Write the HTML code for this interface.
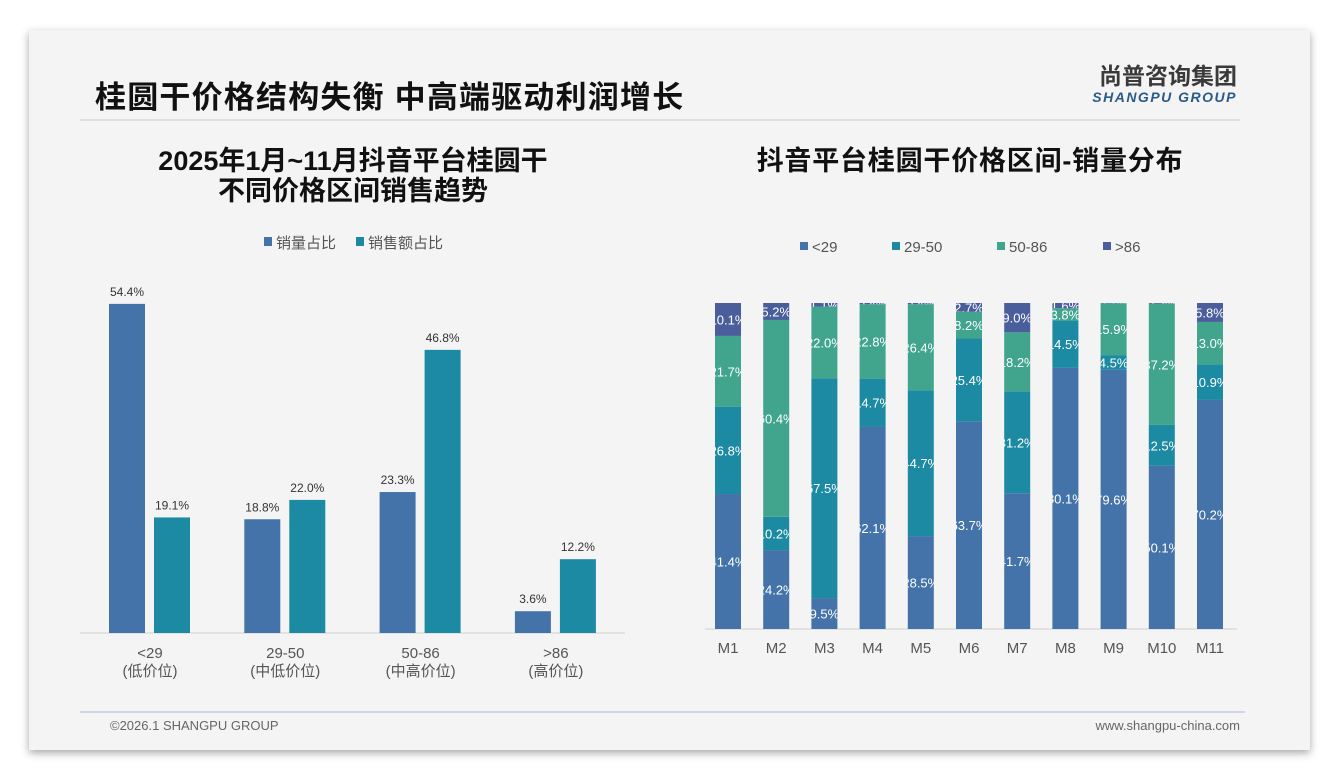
<!DOCTYPE html>
<html><head><meta charset="utf-8">
<style>
body{margin:0;width:1340px;height:780px;background:#fff;font-family:"Liberation Sans","Noto Sans CJK SC",sans-serif;overflow:hidden}
#card{position:absolute;left:29px;top:30px;width:1281px;height:720px;background:#f4f4f4;box-shadow:0 3px 8px rgba(0,0,0,0.35)}
</style></head><body>
<div id="card"></div>
<svg width="1340" height="780" style="position:absolute;left:0;top:0">
<text x="95" y="108" font-size="31" font-weight="bold" fill="#111" letter-spacing="1.2" font-family="Liberation Sans,Noto Sans CJK SC,sans-serif">桂圆干价格结构失衡 中高端驱动利润增长</text>
<line x1="80" y1="120" x2="1240" y2="120" stroke="#d8d8d8" stroke-width="1.5"/>
<text x="1237" y="84" text-anchor="end" font-size="23" font-weight="bold" fill="#3a3a3a" font-family="Noto Sans CJK SC,sans-serif">尚普咨询集团</text>
<text x="1237" y="102" text-anchor="end" font-size="14" font-weight="bold" font-style="italic" fill="#2a5a8a" letter-spacing="1.5">SHANGPU GROUP</text>
<text x="353" y="170" text-anchor="middle" font-size="27" font-weight="bold" fill="#111" font-family="Liberation Sans,Noto Sans CJK SC,sans-serif">2025年1月~11月抖音平台桂圆干</text>
<text x="353" y="200" text-anchor="middle" font-size="27" font-weight="bold" fill="#111" font-family="Liberation Sans,Noto Sans CJK SC,sans-serif">不同价格区间销售趋势</text>
<text x="970" y="170" text-anchor="middle" font-size="27" font-weight="bold" fill="#111" letter-spacing="0.8" font-family="Liberation Sans,Noto Sans CJK SC,sans-serif">抖音平台桂圆干价格区间-销量分布</text>
<g id="left"></g>
<g id="right"></g>
<line x1="80" y1="712" x2="1245" y2="712" stroke="#b9c4d0" stroke-width="1.2"/>
<text x="110" y="730" font-size="13" fill="#666">©2026.1 SHANGPU GROUP</text>
<text x="1240" y="730" text-anchor="end" font-size="13" fill="#666">www.shangpu-china.com</text>
</svg>
<script>
const leftCats=["<29","29-50","50-86",">86"];
const leftSub=["(低价位)","(中低价位)","(中高价位)","(高价位)"];
const volShare=[54.4,18.8,23.3,3.6];
const salesShare=[19.1,22.0,46.8,12.2];
const months=["M1","M2","M3","M4","M5","M6","M7","M8","M9","M10","M11"];
const sLow=[41.4,24.2,9.5,62.1,28.5,63.7,41.7,80.1,79.6,50.1,70.2];
const sMidLow=[26.8,10.2,67.5,14.7,44.7,25.4,31.2,14.5,4.5,12.5,10.9];
const sMidHigh=[21.7,60.4,22.0,22.8,26.4,8.2,18.2,3.8,15.9,37.2,13.0];
const sHigh=[10.1,5.2,1.1,0.4,0.4,2.7,9.0,1.6,0.1,0.2,5.8];
const rightLegend=["<29","29-50","50-86",">86"];
const NS="http://www.w3.org/2000/svg";
function mk(p,t,a){const e=document.createElementNS(NS,t);for(const k in a)e.setAttribute(k,a[k]);p.appendChild(e);return e;}
const C1="#4473a9",C2="#1b8aa2",C3="#41a58e",C4="#4a5e9c";
const L=document.getElementById('left');
const base=633,pxPer=6.05;
const yL=v=>base-v*pxPer;
const xL=i=>150+i*135.3;
mk(L,'line',{x1:80,y1:base,x2:625,y2:base,stroke:'#d0d0d0','stroke-width':1});
let lg=mk(L,'rect',{x:264,y:237,width:8,height:9,fill:C1});

let t=mk(L,'text',{x:276,y:248,'font-size':15,fill:'#555'});t.textContent='销量占比';

lg=mk(L,'rect',{x:356,y:237,width:8,height:9,fill:C2});

t=mk(L,'text',{x:368,y:248,'font-size':15,fill:'#555'});t.textContent='销售额占比';

leftCats.forEach((c,i)=>{
  const cx=xL(i);
  let r=mk(L,'rect',{x:cx-41,y:yL(volShare[i]),width:36,height:volShare[i]*pxPer,fill:C1});
  
  let l=mk(L,'text',{x:cx-23,y:yL(volShare[i])-8,'text-anchor':'middle','font-size':12,fill:'#333'});l.textContent=volShare[i].toFixed(1)+'%';
  
  r=mk(L,'rect',{x:cx+4,y:yL(salesShare[i]),width:36,height:salesShare[i]*pxPer,fill:C2});
  
  l=mk(L,'text',{x:cx+22,y:yL(salesShare[i])-8,'text-anchor':'middle','font-size':12,fill:'#333'});l.textContent=salesShare[i].toFixed(1)+'%';
  
  l=mk(L,'text',{x:cx,y:658,'text-anchor':'middle','font-size':15,fill:'#555'});l.textContent=c;
  
  l=mk(L,'text',{x:cx,y:676,'text-anchor':'middle','font-size':15,fill:'#555'});l.textContent=leftSub[i];
  
});
const R=document.getElementById('right');
const rb=629,rh=326;
const xR=i=>728+i*48.2;
mk(R,'line',{x1:705,y1:rb,x2:1237,y2:rb,stroke:'#d0d0d0','stroke-width':1});
const lx=[800,892,997,1103],cols=[C1,C2,C3,C4];
rightLegend.forEach((n,i)=>{
  let s=mk(R,'rect',{x:lx[i],y:242,width:8,height:8,fill:cols[i]});
  
  let tt=mk(R,'text',{x:lx[i]+12,y:252,'font-size':15,fill:'#555'});tt.textContent=n;
  
});
const series=[sLow,sMidLow,sMidHigh,sHigh];
const defs=mk(R,'defs',{});
months.forEach((m,i)=>{
  const cx=xR(i);let acc=0;
  const tot=series.reduce((a,s)=>a+s[i],0);
  series.forEach((s,k)=>{
    const v=s[i];const h=v/tot*rh;const y=rb-acc-h;acc+=h;
    const r=mk(R,'rect',{x:cx-13,y:y,width:26,height:h,fill:cols[k]});
    
    const cid='c'+i+'_'+k;
    const cp=mk(defs,'clipPath',{id:cid});mk(cp,'rect',{x:cx-13,y:y,width:26,height:h});
    const l=mk(R,'text',{x:cx,y:y+h/2+5,'text-anchor':'middle','font-size':13,fill:'#fff','clip-path':'url(#'+cid+')'});
    l.textContent=v.toFixed(1)+'%';
    
  });
  const xl=mk(R,'text',{x:cx,y:653,'text-anchor':'middle','font-size':15,fill:'#555'});xl.textContent=m;
  
});
</script>
</body></html>
